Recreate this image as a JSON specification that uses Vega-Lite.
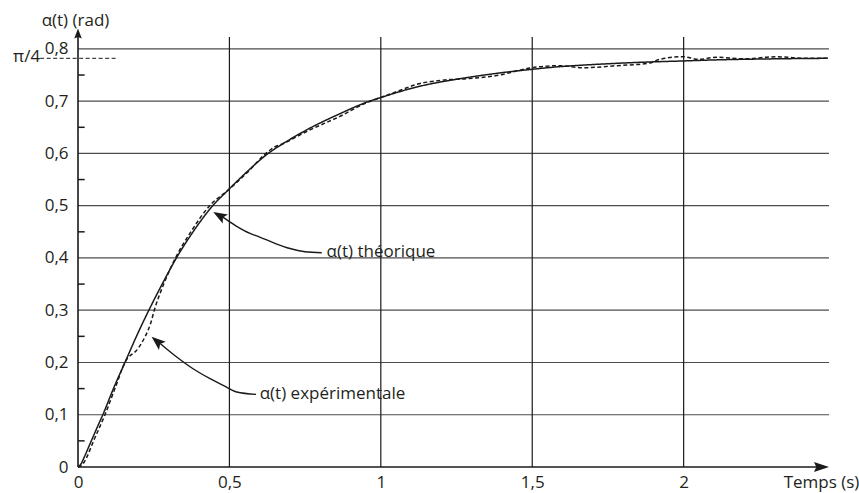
{
  "$schema": "https://vega.github.io/schema/vega-lite/v6.json",
  "autosize": "none",
  "width": 751,
  "height": 439,
  "padding": {"left": 78, "top": 28, "right": 30, "bottom": 26},
  "background": "white",
  "config": {
    "view": {"stroke": null},
    "font": "Open Sans",
    "axis": {"grid": false, "ticks": false, "domain": false},
    "locale": {"number": {"decimal": ",", "thousands": " ", "grouping": [3], "currency": ["", " €"]}}
  },
  "datasets": {
    "one": [{}],
    "curves": [
      {"t": 0, "a": 0, "s": "théorique"},
      {"t": 0.01, "a": 0.006, "s": "théorique"},
      {"t": 0.02, "a": 0.018, "s": "théorique"},
      {"t": 0.035, "a": 0.038, "s": "théorique"},
      {"t": 0.05, "a": 0.058, "s": "théorique"},
      {"t": 0.065, "a": 0.078, "s": "théorique"},
      {"t": 0.082, "a": 0.1, "s": "théorique"},
      {"t": 0.117, "a": 0.15, "s": "théorique"},
      {"t": 0.155, "a": 0.2, "s": "théorique"},
      {"t": 0.193, "a": 0.25, "s": "théorique"},
      {"t": 0.234, "a": 0.3, "s": "théorique"},
      {"t": 0.278, "a": 0.35, "s": "théorique"},
      {"t": 0.325, "a": 0.4, "s": "théorique"},
      {"t": 0.38, "a": 0.45, "s": "théorique"},
      {"t": 0.445, "a": 0.5, "s": "théorique"},
      {"t": 0.496, "a": 0.53, "s": "théorique"},
      {"t": 0.56, "a": 0.566, "s": "théorique"},
      {"t": 0.628, "a": 0.6, "s": "théorique"},
      {"t": 0.678, "a": 0.619, "s": "théorique"},
      {"t": 0.755, "a": 0.645, "s": "théorique"},
      {"t": 0.865, "a": 0.676, "s": "théorique"},
      {"t": 0.953, "a": 0.698, "s": "théorique"},
      {"t": 1.0, "a": 0.707, "s": "théorique"},
      {"t": 1.118, "a": 0.727, "s": "théorique"},
      {"t": 1.283, "a": 0.745, "s": "théorique"},
      {"t": 1.393, "a": 0.754, "s": "théorique"},
      {"t": 1.5, "a": 0.761, "s": "théorique"},
      {"t": 1.59, "a": 0.766, "s": "théorique"},
      {"t": 1.668, "a": 0.769, "s": "théorique"},
      {"t": 1.888, "a": 0.775, "s": "théorique"},
      {"t": 2.0, "a": 0.777, "s": "théorique"},
      {"t": 2.107, "a": 0.779, "s": "théorique"},
      {"t": 2.3, "a": 0.781, "s": "théorique"},
      {"t": 2.476, "a": 0.782, "s": "théorique"},
      {"t": 0, "a": 0, "s": "expérimentale"},
      {"t": 0.015, "a": 0.005, "s": "expérimentale"},
      {"t": 0.03, "a": 0.02, "s": "expérimentale"},
      {"t": 0.05, "a": 0.048, "s": "expérimentale"},
      {"t": 0.089, "a": 0.1, "s": "expérimentale"},
      {"t": 0.122, "a": 0.15, "s": "expérimentale"},
      {"t": 0.155, "a": 0.2, "s": "expérimentale"},
      {"t": 0.2, "a": 0.228, "s": "expérimentale"},
      {"t": 0.222, "a": 0.25, "s": "expérimentale"},
      {"t": 0.24, "a": 0.275, "s": "expérimentale"},
      {"t": 0.252, "a": 0.3, "s": "expérimentale"},
      {"t": 0.283, "a": 0.35, "s": "expérimentale"},
      {"t": 0.322, "a": 0.4, "s": "expérimentale"},
      {"t": 0.375, "a": 0.452, "s": "expérimentale"},
      {"t": 0.435, "a": 0.5, "s": "expérimentale"},
      {"t": 0.496, "a": 0.53, "s": "expérimentale"},
      {"t": 0.56, "a": 0.564, "s": "expérimentale"},
      {"t": 0.615, "a": 0.597, "s": "expérimentale"},
      {"t": 0.645, "a": 0.611, "s": "expérimentale"},
      {"t": 0.678, "a": 0.619, "s": "expérimentale"},
      {"t": 0.755, "a": 0.642, "s": "expérimentale"},
      {"t": 0.865, "a": 0.671, "s": "expérimentale"},
      {"t": 0.953, "a": 0.697, "s": "expérimentale"},
      {"t": 1.0, "a": 0.707, "s": "expérimentale"},
      {"t": 1.06, "a": 0.72, "s": "expérimentale"},
      {"t": 1.118, "a": 0.732, "s": "expérimentale"},
      {"t": 1.2, "a": 0.74, "s": "expérimentale"},
      {"t": 1.283, "a": 0.743, "s": "expérimentale"},
      {"t": 1.393, "a": 0.75, "s": "expérimentale"},
      {"t": 1.45, "a": 0.758, "s": "expérimentale"},
      {"t": 1.5, "a": 0.764, "s": "expérimentale"},
      {"t": 1.59, "a": 0.768, "s": "expérimentale"},
      {"t": 1.668, "a": 0.764, "s": "expérimentale"},
      {"t": 1.78, "a": 0.768, "s": "expérimentale"},
      {"t": 1.888, "a": 0.773, "s": "expérimentale"},
      {"t": 1.92, "a": 0.78, "s": "expérimentale"},
      {"t": 1.998, "a": 0.785, "s": "expérimentale"},
      {"t": 2.05, "a": 0.78, "s": "expérimentale"},
      {"t": 2.107, "a": 0.784, "s": "expérimentale"},
      {"t": 2.2, "a": 0.781, "s": "expérimentale"},
      {"t": 2.306, "a": 0.785, "s": "expérimentale"},
      {"t": 2.4, "a": 0.782, "s": "expérimentale"},
      {"t": 2.476, "a": 0.782, "s": "expérimentale"}
    ],
    "pointers": [
      {"t": 0.476, "a": 0.479, "g": "théorique"},
      {"t": 0.52, "a": 0.462, "g": "théorique"},
      {"t": 0.568, "a": 0.447, "g": "théorique"},
      {"t": 0.6, "a": 0.44, "g": "théorique"},
      {"t": 0.65, "a": 0.428, "g": "théorique"},
      {"t": 0.7, "a": 0.418, "g": "théorique"},
      {"t": 0.75, "a": 0.412, "g": "théorique"},
      {"t": 0.805, "a": 0.41, "g": "théorique"},
      {"t": 0.272, "a": 0.236, "g": "expérimentale"},
      {"t": 0.326, "a": 0.2105, "g": "expérimentale"},
      {"t": 0.38, "a": 0.188, "g": "expérimentale"},
      {"t": 0.436, "a": 0.169, "g": "expérimentale"},
      {"t": 0.49, "a": 0.153, "g": "expérimentale"},
      {"t": 0.524, "a": 0.1435, "g": "expérimentale"},
      {"t": 0.588, "a": 0.139, "g": "expérimentale"}
    ],
    "labels": [
      {"t": 0.821, "a": 0.4115, "label": "α(t) théorique"},
      {"t": 0.6, "a": 0.1405, "label": "α(t) expérimentale"}
    ]
  },
  "layer": [
    {
      "data": {"name": "curves"},
      "mark": {"type": "line", "color": "#1a1a1a", "strokeWidth": 1.5, "interpolate": "monotone", "opacity": 0},
      "encoding": {
        "x": {
          "field": "t", "type": "quantitative",
          "scale": {"domain": [0, 2.48], "nice": false, "zero": false},
          "axis": {
            "values": [0, 0.5, 1, 1.5, 2],
            "format": ".1~f",
            "domain": false, "ticks": false, "grid": false,
            "labelFont": "Open Sans", "labelFontSize": 17, "labelColor": "#231f20", "labelPadding": 7,
            "labelFlush": false,
            "title": "Temps (s)", "titleX": 743, "titleY": 20,
            "titleAlign": "center", "titleBaseline": "alphabetic",
            "titleFont": "Open Sans", "titleFontSize": 17, "titleFontWeight": "normal", "titleColor": "#231f20"
          }
        },
        "y": {
          "field": "a", "type": "quantitative",
          "scale": {"domain": [0, 0.84], "nice": false, "zero": false},
          "axis": {
            "values": [0, 0.1, 0.2, 0.3, 0.4, 0.5, 0.6, 0.7, 0.8],
            "format": ".1~f",
            "domain": false, "ticks": false, "grid": false,
            "labelFont": "Open Sans", "labelFontSize": 17, "labelColor": "#231f20", "labelPadding": 10,
            "title": "α(t) (rad)", "titleAngle": 0, "titleX": -3, "titleY": -8,
            "titleAlign": "center", "titleBaseline": "middle",
            "titleFont": "Open Sans", "titleFontSize": 17, "titleFontWeight": "normal", "titleColor": "#231f20"
          }
        }
      }
    },
    {
      "data": {"values": [{"a": 0.1}, {"a": 0.2}, {"a": 0.3}, {"a": 0.4}, {"a": 0.5}, {"a": 0.6}, {"a": 0.7}, {"a": 0.8}]},
      "mark": {"type": "rule", "color": "#4d4d4d", "strokeWidth": 1.2},
      "encoding": {
        "y": {"field": "a", "type": "quantitative", "scale": {"domain": [0, 0.84], "nice": false, "zero": false}}
      }
    },
    {
      "data": {"values": [{"t": 0.5}, {"t": 1}, {"t": 1.5}, {"t": 2}]},
      "mark": {"type": "rule", "color": "#1a1a1a", "strokeWidth": 1.2},
      "encoding": {
        "x": {"field": "t", "type": "quantitative", "scale": {"domain": [0, 2.48], "nice": false, "zero": false}},
        "y": {"datum": 0, "type": "quantitative", "scale": {"domain": [0, 0.84], "nice": false, "zero": false}},
        "y2": {"datum": 0.823}
      }
    },
    {
      "data": {"values": [{"a": 0.05}, {"a": 0.15}, {"a": 0.25}, {"a": 0.35}, {"a": 0.45}, {"a": 0.55}, {"a": 0.65}, {"a": 0.75}]},
      "mark": {"type": "rule", "color": "#1a1a1a", "strokeWidth": 1.5},
      "encoding": {
        "x": {"datum": 0, "type": "quantitative", "scale": {"domain": [0, 2.48], "nice": false, "zero": false}},
        "x2": {"datum": 0.022},
        "y": {"field": "a", "type": "quantitative", "scale": {"domain": [0, 0.84], "nice": false, "zero": false}}
      }
    },
    {
      "data": {"name": "one"},
      "mark": {"type": "rule", "color": "#1a1a1a", "strokeWidth": 1.6},
      "encoding": {
        "x": {"datum": 0, "type": "quantitative", "scale": {"domain": [0, 2.48], "nice": false, "zero": false}},
        "x2": {"datum": 2.45},
        "y": {"datum": 0, "type": "quantitative", "scale": {"domain": [0, 0.84], "nice": false, "zero": false}}
      }
    },
    {
      "data": {"name": "one"},
      "mark": {"type": "rule", "color": "#1a1a1a", "strokeWidth": 1.6},
      "encoding": {
        "x": {"datum": 0, "type": "quantitative", "scale": {"domain": [0, 2.48], "nice": false, "zero": false}},
        "y": {"datum": 0, "type": "quantitative", "scale": {"domain": [0, 0.84], "nice": false, "zero": false}},
        "y2": {"datum": 0.83}
      }
    },
    {
      "data": {"name": "one"},
      "mark": {"type": "point", "shape": "M0,0L-2,-0.66L-1.7,0L-2,0.66Z", "filled": true, "color": "#1a1a1a", "opacity": 1, "size": 225, "angle": 0},
      "encoding": {
        "x": {"datum": 2.48, "type": "quantitative", "scale": {"domain": [0, 2.48], "nice": false, "zero": false}},
        "y": {"datum": 0, "type": "quantitative", "scale": {"domain": [0, 0.84], "nice": false, "zero": false}}
      }
    },
    {
      "data": {"name": "one"},
      "mark": {"type": "point", "shape": "M0,0L-2,-0.75L-1.7,0L-2,0.75Z", "filled": true, "color": "#1a1a1a", "opacity": 1, "size": 100, "angle": 270},
      "encoding": {
        "x": {"datum": 0, "type": "quantitative", "scale": {"domain": [0, 2.48], "nice": false, "zero": false}},
        "y": {"datum": 0.839, "type": "quantitative", "scale": {"domain": [0, 0.84], "nice": false, "zero": false}}
      }
    },
    {
      "data": {"name": "curves"},
      "mark": {"type": "line", "color": "#1a1a1a", "strokeWidth": 1.5, "interpolate": "monotone"},
      "encoding": {
        "x": {"field": "t", "type": "quantitative", "scale": {"domain": [0, 2.48], "nice": false, "zero": false}},
        "y": {"field": "a", "type": "quantitative", "scale": {"domain": [0, 0.84], "nice": false, "zero": false}},
        "strokeDash": {
          "field": "s", "type": "nominal",
          "scale": {"domain": ["théorique", "expérimentale"], "range": [[1, 0], [4, 2.5]]},
          "legend": null
        }
      }
    },
    {
      "data": {"name": "pointers"},
      "mark": {"type": "line", "color": "#1a1a1a", "strokeWidth": 1.4, "interpolate": "monotone"},
      "encoding": {
        "x": {"field": "t", "type": "quantitative", "scale": {"domain": [0, 2.48], "nice": false, "zero": false}},
        "y": {"field": "a", "type": "quantitative", "scale": {"domain": [0, 0.84], "nice": false, "zero": false}},
        "detail": {"field": "g", "type": "nominal"}
      }
    },
    {
      "data": {"name": "one"},
      "mark": {"type": "point", "shape": "M0,0L-2,-0.75L-1.6,0L-2,0.75Z", "filled": true, "color": "#1a1a1a", "opacity": 1, "size": 196, "angle": 210},
      "encoding": {
        "x": {"datum": 0.4465, "type": "quantitative", "scale": {"domain": [0, 2.48], "nice": false, "zero": false}},
        "y": {"datum": 0.488, "type": "quantitative", "scale": {"domain": [0, 0.84], "nice": false, "zero": false}}
      }
    },
    {
      "data": {"name": "one"},
      "mark": {"type": "point", "shape": "M0,0L-2,-0.75L-1.6,0L-2,0.75Z", "filled": true, "color": "#1a1a1a", "opacity": 1, "size": 196, "angle": 220},
      "encoding": {
        "x": {"datum": 0.243, "type": "quantitative", "scale": {"domain": [0, 2.48], "nice": false, "zero": false}},
        "y": {"datum": 0.249, "type": "quantitative", "scale": {"domain": [0, 0.84], "nice": false, "zero": false}}
      }
    },
    {
      "data": {"name": "labels"},
      "mark": {"type": "text", "align": "left", "baseline": "middle", "font": "Open Sans", "fontSize": 17, "color": "#231f20"},
      "encoding": {
        "x": {"field": "t", "type": "quantitative", "scale": {"domain": [0, 2.48], "nice": false, "zero": false}},
        "y": {"field": "a", "type": "quantitative", "scale": {"domain": [0, 0.84], "nice": false, "zero": false}},
        "text": {"field": "label"}
      }
    },
    {
      "data": {"name": "one"},
      "mark": {"type": "rule", "color": "#1a1a1a", "strokeWidth": 1, "strokeDash": [4, 2.5]},
      "encoding": {
        "x": {"datum": -0.125, "type": "quantitative", "scale": {"domain": [0, 2.48], "nice": false, "zero": false}},
        "x2": {"datum": 0.125},
        "y": {"datum": 0.782, "type": "quantitative", "scale": {"domain": [0, 0.84], "nice": false, "zero": false}}
      }
    },
    {
      "data": {"name": "one"},
      "mark": {"type": "text", "align": "right", "baseline": "middle", "font": "Open Sans", "fontSize": 17, "color": "#231f20", "text": "π/4"},
      "encoding": {
        "x": {"datum": -0.125, "type": "quantitative", "scale": {"domain": [0, 2.48], "nice": false, "zero": false}},
        "y": {"datum": 0.785, "type": "quantitative", "scale": {"domain": [0, 0.84], "nice": false, "zero": false}}
      }
    }
  ]
}
